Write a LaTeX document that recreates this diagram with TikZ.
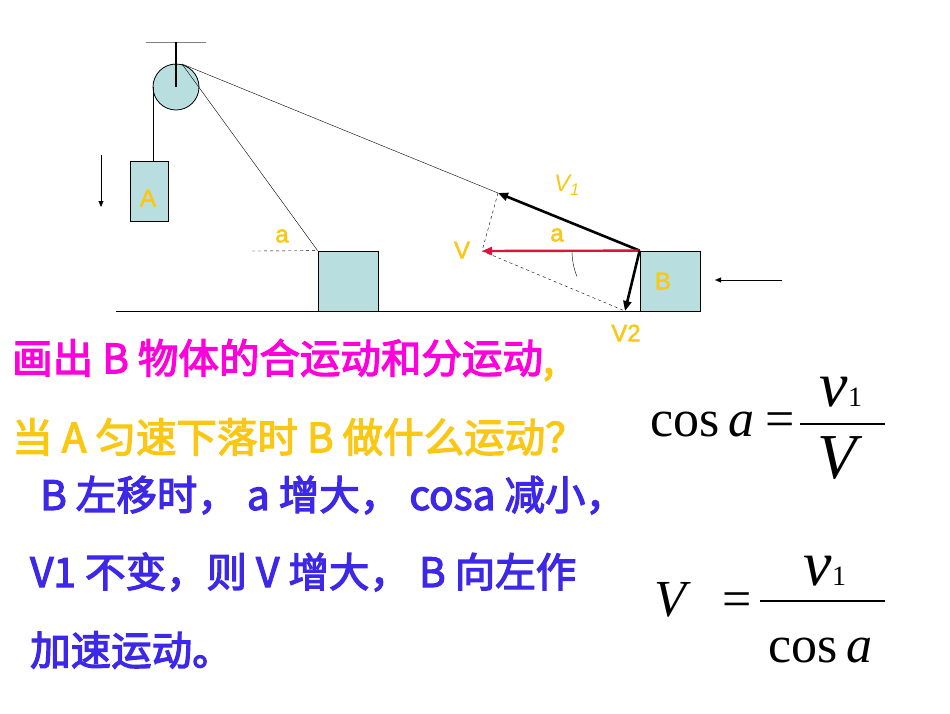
\documentclass[tikz,border=0pt]{standalone}
\usepackage{fontspec}
\setmainfont{Liberation Serif}
\newfontfamily\cjk[AutoFakeBold=3]{Noto Sans CJK SC}
\newfontfamily\lab{Liberation Sans}[AutoFakeBold=2]
\usetikzlibrary{arrows.meta}
\definecolor{boxc}{RGB}{184,222,224}
\definecolor{yel}{RGB}{250,200,20}
\definecolor{mag}{RGB}{255,0,220}
\definecolor{blu}{RGB}{60,40,230}
\definecolor{redc}{RGB}{220,20,60}
\begin{document}
\begin{tikzpicture}[x=1pt,y=-1pt,
  blk/.style={draw,fill=boxc,line width=0.8pt},
  lbl/.style={text=yel,font=\lab\bfseries\fontsize{24}{25}\selectfont,inner sep=0},
  vec/.style={line width=2.6pt,-{Triangle[length=10pt,width=8pt]}},
  cn/.style={font=\cjk\bfseries\fontsize{40.5}{42}\selectfont,anchor=west,inner sep=0},
  fm/.style={font=\fontsize{52}{54}\selectfont,inner sep=0},
  fv/.style={font=\fontsize{64}{66}\selectfont,inner sep=0}]
\useasboundingbox (0,0) rectangle (950,713);
% pulley
\draw[gray,line width=1pt] (146,42) -- (206,42);
\node[blk,circle,minimum size=46pt,inner sep=0] (p) at (176,87) {};
\draw[line width=2.4pt] (176,42) -- (176,87);
\node[blk,minimum width=38pt,minimum height=60pt,inner sep=0] (A) at (149,191) {};
\node[lbl] at (148,198) {A};
\draw (153.5,87) -- (A.north -| 153.5,0);
\draw[-{Triangle[length=6pt,width=5pt]}] (101,155) -- (101,207);
% ground
\draw[line width=1pt] (116,311) -- (700,311);
\node[blk,minimum size=60pt,inner sep=0] (C) at (348,281) {};
\node[blk,minimum size=60pt,inner sep=0] (B) at (670,281) {};
\node[lbl] at (663,281) {B};
\coordinate (top) at (182,64);
\draw (top) -- (C.north west);
\draw[dashed] (252,251) -- (C.north west);
\node[lbl] at (282,236) {a};
\coordinate (V1) at (498,193);
\coordinate (V) at (482,251);
\coordinate (V2) at (625,311);
\draw (top) -- (V1);
\draw[dashed] (V1) -- (V) -- (V2);
\draw[vec] (B.north west) -- (V1);
\draw[vec,redc,line width=2.4pt] (B.north west) -- (V);
\draw[vec] (B.north west) -- (V2);
\draw (572,251) arc[start angle=180,end angle=158,radius=68];
\node[lbl] at (557,235) {a};
\node[lbl] at (462,250) {V};
\node[lbl,font=\lab\bfseries\itshape\fontsize{24}{25}\selectfont] at (567,185) {V\textsubscript{1}};
\node[lbl] at (626,333) {V2};
\draw[-{Triangle[length=6pt,width=5pt]}] (782,280) -- (715,280);
% texts
\node[cn] at (12,360) {\textcolor{mag}{画出 B 物体的合运动和分运动}\textcolor{yel}{,}};
\node[cn,text=yel] at (12,437) {当 A 匀速下落时 B 做什么运动？};
\node[cn,text=blu] at (40,495) {B 左移时， a 增大， cosa 减小，};
\node[cn,text=blu] at (30,572) {V1 不变，则 V 增大， B 向左作};
\node[cn,text=blu] at (30,650) {加速运动。};
% formula 1
\node[fm,anchor=base west] at (650,436) {cos\,\textit{a}};
\node[fm,anchor=base] at (780,436) {=};
\node[fv,anchor=base] at (841,406) {\textit{v}\fontsize{28}{28}\selectfont1};
\draw[line width=1.2pt] (800,424) -- (885,424);
\node[fv,anchor=base] at (840,478) {\textit{V}};
% formula 2
\node[fm,anchor=base] at (673,616) {\textit{V}};
\node[fm,anchor=base] at (737,616) {=};
\draw[line width=1.2pt] (760,601) -- (885,601);
\node[fv,anchor=base] at (825,585) {\textit{v}\fontsize{28}{28}\selectfont1};
\node[fm,anchor=base] at (820,662) {cos\,\textit{a}};
\end{tikzpicture}
\end{document}
